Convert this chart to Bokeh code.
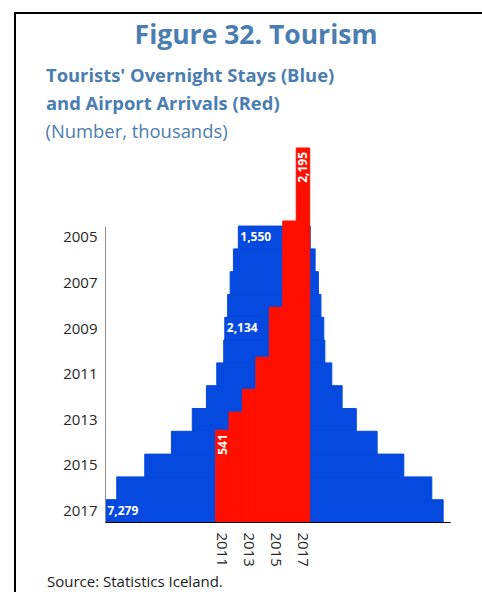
from math import pi
from bokeh.plotting import figure
from bokeh.layouts import column, row
from bokeh.models import (Range1d, LinearAxis, FixedTicker, Label, ColumnDataSource)
from bokeh.core.properties import value
from bokeh.embed import file_html
from bokeh.resources import INLINE

# ---- data (thousands) ----
stay_years = [2005, 2006, 2007, 2008, 2009, 2010, 2011, 2012, 2013, 2014, 2015, 2016, 2017]
overnight_stays = [1550, 1761, 1903, 2011, 2134, 2180, 2479, 2925, 3535, 4434, 5583, 6790, 7279]
arrival_years = [2011, 2012, 2013, 2014, 2015, 2016, 2017]
airport_arrivals = [541, 647, 781, 969, 1262, 1767, 2195]
stay_label_years = [2005, 2009, 2017]
arrival_label_years = [2011, 2017]
y_tick_years = [2005, 2007, 2009, 2011, 2013, 2015, 2017]
x_tick_years = [2011, 2013, 2015, 2017]

FONT = "Open Sans"
BLUE = "#0549DF"
RED = "#FF0F00"
TITLE_C = "#4A7EB0"


def blank(width, height, xr, yr):
    f = figure(width=width, height=height, output_backend="svg", toolbar_location=None,
               x_range=Range1d(*xr), y_range=Range1d(*yr),
               x_axis_location=None, y_axis_location=None,
               min_border=0, min_border_left=0, min_border_right=0,
               min_border_top=0, min_border_bottom=0)
    f.outline_line_color = None
    f.grid.visible = False
    f.background_fill_color = None
    f.border_fill_color = None
    return f


def lab(f, x, y, text, size, bold=True, color=TITLE_C, align="left"):
    f.add_layout(Label(x=x, y=y, text=text,
                       text_font=FONT, text_font_size=f"{size}px",
                       text_font_style="bold" if bold else "normal",
                       text_color=color, text_align=align, text_baseline="middle"))


# ---------- header ----------
top = blank(482, 146, (0, 482), (146, 0))
lab(top, 255.5, 44.3 - 0.39 * 26.5, "Figure 32. Tourism", 26.5, align="center")
lab(top, 45.5, 81 - 0.39 * 18.4, "Tourists' Overnight Stays (Blue)", 18.4)
lab(top, 45.5, 109.3 - 0.39 * 18.4, "and Airport Arrivals (Red)", 18.4)
lab(top, 45, 136.7 - 0.39 * 18.4, "(Number, thousands)", 18.4, bold=False)

# ---------- main chart ----------
p = figure(width=482, height=424, output_backend="svg", toolbar_location=None,
           x_range=Range1d(-3638, 3798), y_range=Range1d(2017.5, 2001.01),
           x_axis_location=None,
           min_border_left=105, min_border_right=32, min_border_top=0, min_border_bottom=48)
p.extra_x_ranges = {"yr": Range1d(2002.32, 2027.97)}
p.extra_y_ranges = {"arr": Range1d(0, 2203.7)}
p.outline_line_color = None
p.grid.visible = False
p.background_fill_color = None
p.border_fill_color = None

blue_src = ColumnDataSource(dict(
    year=stay_years,
    left=[-v / 2 for v in overnight_stays],
    right=[v / 2 for v in overnight_stays],
))
p.hbar(y="year", left="left", right="right", height=1.0, source=blue_src,
       fill_color=BLUE, line_color=BLUE, line_width=1)

red_src = ColumnDataSource(dict(year=arrival_years, top=airport_arrivals))
p.vbar(x="year", top="top", bottom=0, width=1.0, source=red_src,
       x_range_name="yr", y_range_name="arr", fill_color=RED, line_color=RED, line_width=1)

# value labels
bl = [(y, v) for y, v in zip(stay_years, overnight_stays) if y in stay_label_years]
p.text(x=[-v / 2 for _, v in bl], y=[y for y, _ in bl], text=[f"{v:,}" for _, v in bl],
       x_offset=2, y_offset=-1, text_align="left", text_baseline="middle",
       text_font=value(FONT), text_font_style="bold", text_font_size="12px",
       text_color="white")
rl = [(y, v) for y, v in zip(arrival_years, airport_arrivals) if y in arrival_label_years]
p.text(x=[y for y, _ in rl], y=[v for _, v in rl], text=[f"{v:,}" for _, v in rl],
       angle=pi / 2, y_offset=4, text_align="right", text_baseline="middle",
       x_range_name="yr", y_range_name="arr",
       text_font=value(FONT), text_font_style="bold", text_font_size="12px",
       text_color="white")

# y axis (years of overnight stays)
ya = p.yaxis[0]
ya.ticker = FixedTicker(ticks=y_tick_years)
ya.bounds = (2004.5, 2017.5)
ya.major_tick_out = 0
ya.major_tick_in = 0
ya.minor_tick_out = 0
ya.minor_tick_in = 0
ya.axis_line_color = "#8c8c8c"
ya.major_label_standoff = 8
ya.major_label_text_font = FONT
ya.major_label_text_font_size = "15px"
ya.major_label_text_color = "#262626"

# x axis (years of airport arrivals)
xa = LinearAxis(x_range_name="yr", ticker=FixedTicker(ticks=x_tick_years))
xa.major_label_orientation = "vertical"
xa.major_tick_out = 0
xa.major_tick_in = 0
xa.minor_tick_out = 0
xa.minor_tick_in = 0
xa.axis_line_color = "black"
xa.major_label_standoff = 10
xa.major_label_text_font = FONT
xa.major_label_text_font_size = "15px"
xa.major_label_text_color = "#262626"
p.add_layout(xa, "below")

# ---------- footer ----------
bot = blank(482, 22, (0, 482), (592, 570))
lab(bot, 46.5, 586.7 - 0.39 * 15, "Source: Statistics Iceland.", 15, bold=False, color="#1a1a1a")

# frame border of the whole figure (top and left edges; right/bottom lie outside the window)
border_css = ("linear-gradient(#000, #000) 14px 12px / 2px calc(100% - 12px) no-repeat, "
              "linear-gradient(#000, #000) 14px 12px / calc(100% - 14px) 2px no-repeat, #ffffff")
layout = column(top, row(p, spacing=0), bot, spacing=0, styles={"background": border_css})

open("out.html", "w").write(file_html(layout, INLINE))
